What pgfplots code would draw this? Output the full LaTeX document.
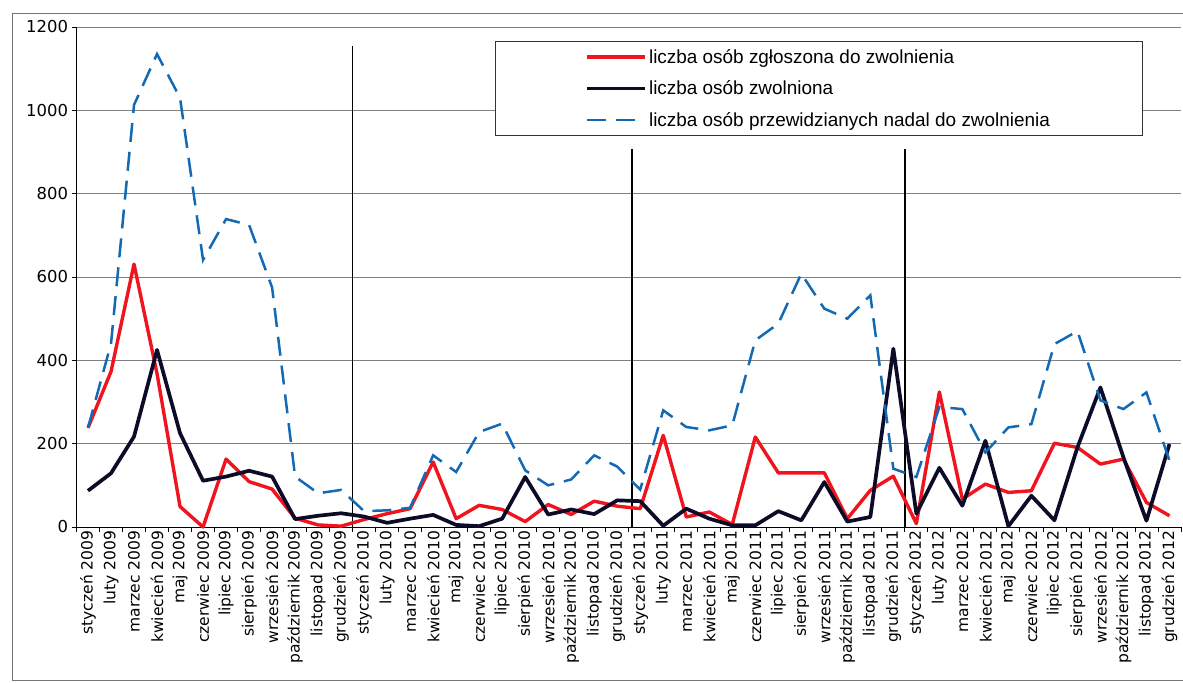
\documentclass[border=0pt]{standalone}
\usepackage{fontspec}
\setmainfont{Liberation Sans}
\newfontfamily\dejavu{DejaVu Sans}
\usepackage{pgfplots}
\usepackage{pgfplotstable}
\pgfplotsset{compat=1.18}

\definecolor{zred}{RGB}{240,20,30}
\definecolor{znavy}{RGB}{12,12,40}
\definecolor{zblue}{RGB}{20,105,180}

% i, zgloszona, zwolniona, przewidziana
\pgfplotstableread{
i  zgl  zwol  przew
0  238  87   238
1  373  129  440
2  631  217  1013
3  368  425  1135
4  49   225  1030
5  0    111  641
6  163  121  739
7  109  135  725
8  91   121  575
9  21   19   121
10 5    27   81
11 2    33   89
12 18   25   38
13 32   10   40
14 44   20   46
15 156  29   172
16 20   5    132
17 52   2    228
18 42   20   248
19 13   120  136
20 54   30   100
21 30   42   114
22 62   31   172
23 50   64   145
24 44   62   90
25 220  3    280
26 24   44   240
27 36   20   232
28 6    4    244
29 216  4    448
30 130  38   488
31 130  16   608
32 130  108  524
33 20   13   500
34 88   24   556
35 122  428  140
36 8    32   120
37 324  142  288
38 67   51   283
39 103  207  179
40 83   2    239
41 87   75   247
42 201  16   439
43 191  191  470
44 151  335  304
45 163  167  283
46 59   15   323
47 27   199  159
}\dane

\begin{document}
\begin{tikzpicture}
\useasboundingbox (-76.5bp,-156bp) rectangle (1106.5bp,527bp);
\draw[black!55, line width=0.8bp] (-64.5bp,-153bp) rectangle (1118.5bp,514bp);
\begin{axis}[
    at={(0,0)}, anchor=south west,
    scale only axis, width=1104.5bp, height=500bp,
    xmin=-0.5, xmax=47.5, ymin=0, ymax=1200,
    axis x line*=bottom, axis y line*=left,
    axis line style={-, line width=1bp, black},
    tick align=outside, major tick length=5bp,
    tick style={black, line width=0.8bp},
    ytick={0,200,...,1200},
    yticklabels={0,200,400,600,800,1000,1200},
    yticklabel style={font=\dejavu\fontsize{16.5}{18}\selectfont},
    ymajorgrids, grid style={black!50, line width=0.8bp},
    xtick={-0.5,0.5,...,47.5}, xticklabels={},
    extra x ticks={0,...,47},
    extra x tick style={major tick length=0pt},
    extra x tick labels={styczeń 2009,luty 2009,marzec 2009,kwiecień 2009,maj 2009,czerwiec 2009,lipiec 2009,sierpień 2009,wrzesień 2009,październik 2009,listopad 2009,grudzień 2009,
        styczeń 2010,luty 2010,marzec 2010,kwiecień 2010,maj 2010,czerwiec 2010,lipiec 2010,sierpień 2010,wrzesień 2010,październik 2010,listopad 2010,grudzień 2010,
        styczeń 2011,luty 2011,marzec 2011,kwiecień 2011,maj 2011,czerwiec 2011,lipiec 2011,sierpień 2011,wrzesień 2011,październik 2011,listopad 2011,grudzień 2011,
        styczeń 2012,luty 2012,marzec 2012,kwiecień 2012,maj 2012,czerwiec 2012,lipiec 2012,sierpień 2012,wrzesień 2012,październik 2012,listopad 2012,grudzień 2012},
    xticklabel style={rotate=90, anchor=east, font=\dejavu\fontsize{15.6}{16}\selectfont},
    clip=false,
    legend style={at={(rel axis cs:0.3789,0.972)}, anchor=north west,
        draw=black!80, line width=0.8bp, inner xsep=90bp, inner ysep=6bp,
        row sep=12bp, font=\fontsize{19}{20}\selectfont},
    legend cell align=left,
    legend image code/.code={\draw[#1] (0bp,0bp) -- (58bp,0bp);},
]
\draw[black, line width=1.6bp] (axis cs:11.5,0) -- (axis cs:11.5,1155);
\draw[black, line width=1.6bp] (axis cs:23.65,0) -- (axis cs:23.65,908);
\draw[black, line width=1.6bp] (axis cs:35.5,0) -- (axis cs:35.5,908);

\addplot[zred, line width=3.4bp, line join=round] table[x=i, y=zgl] {\dane};
\addlegendentry{liczba osób zgłoszona do zwolnienia}
\addplot[znavy, line width=3.7bp, line join=round] table[x=i, y=zwol] {\dane};
\addlegendentry{liczba osób zwolniona}
\addplot[zblue, line width=2.5bp, dash pattern=on 19bp off 10bp] table[x=i, y=przew] {\dane};
\addlegendentry{liczba osób przewidzianych nadal do zwolnienia}
\end{axis}
\end{tikzpicture}
\end{document}
